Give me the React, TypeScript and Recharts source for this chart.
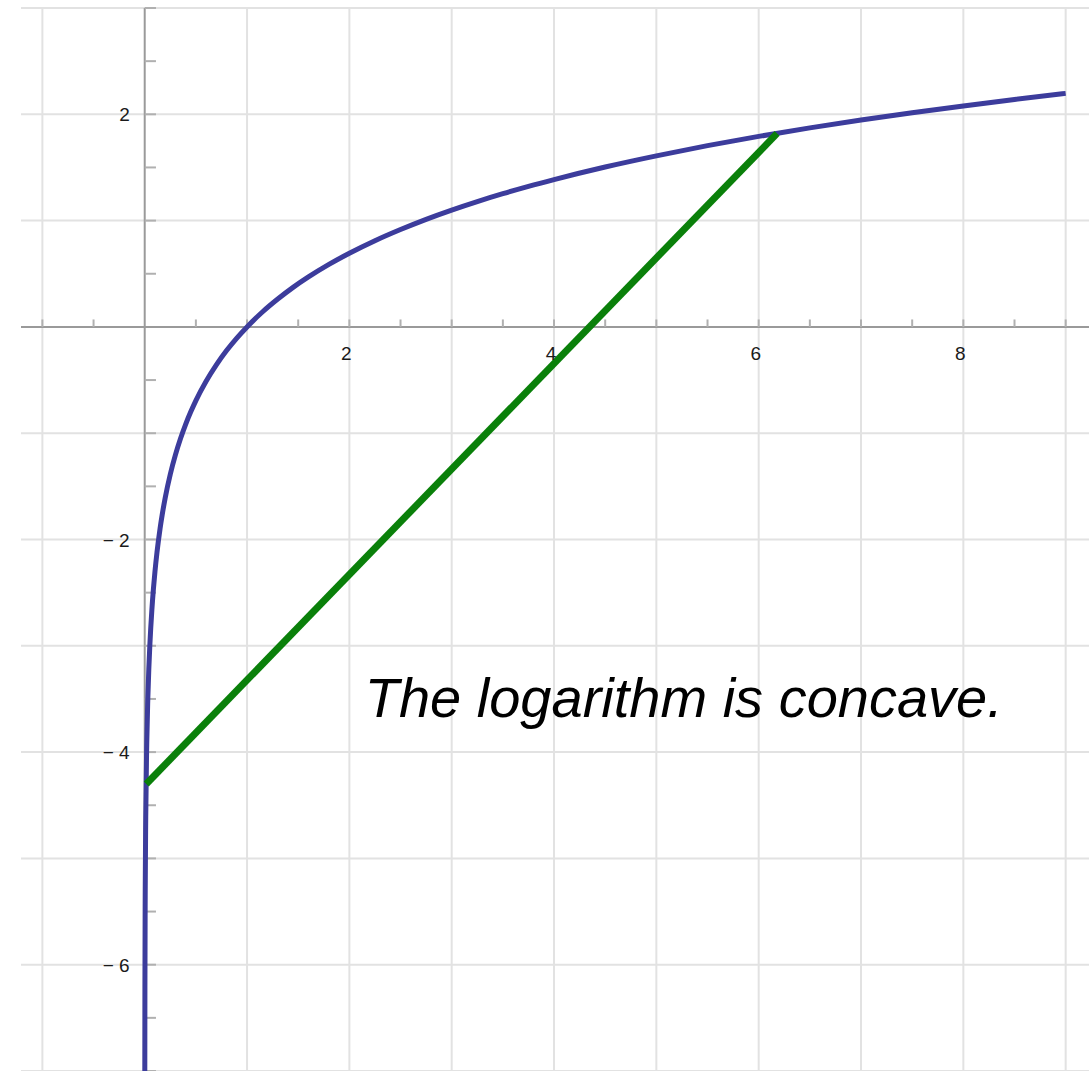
import { ComposedChart, Line, XAxis, YAxis, ReferenceLine, ReferenceDot } from 'recharts'

// y = ln x, sampled along the drawn curve
const logX = [
  0.0009, 0.002, 0.005, 0.01, 0.02, 0.03, 0.04, 0.05, 0.07, 0.085, 0.1, 0.12, 0.15, 0.17, 0.2, 0.25, 0.3, 0.35, 0.4, 0.45,
  0.5, 0.6, 0.7, 0.8, 0.9, 1, 1.15, 1.3, 1.45, 1.6, 1.8, 2, 2.25, 2.5, 2.75, 3, 3.25, 3.5, 3.75, 4, 4.5, 5, 5.5, 6, 6.5,
  7, 7.5, 8, 8.5, 9,
]
const logY = [
  -7.013, -6.215, -5.298, -4.605, -3.912, -3.507, -3.219, -2.996, -2.659, -2.465, -2.303, -2.12, -1.897, -1.772, -1.609,
  -1.386, -1.204, -1.05, -0.916, -0.799, -0.693, -0.511, -0.357, -0.223, -0.105, 0, 0.14, 0.262, 0.372, 0.47, 0.588, 0.693,
  0.811, 0.916, 1.012, 1.099, 1.179, 1.253, 1.322, 1.386, 1.504, 1.609, 1.705, 1.792, 1.872, 1.946, 2.015, 2.079, 2.14, 2.197,
]

// chord lying under the curve
const chordX = [0.015, 6.18]
const chordY = [-4.3, 1.82]

const gridX = [-1, 1, 2, 3, 4, 5, 6, 7, 8, 9]
const gridY = [-7, -6, -5, -4, -3, -2, -1, 1, 2, 3]
const minorX = [-1, -0.5, 0.5, 1, 1.5, 2, 2.5, 3, 3.5, 4, 4.5, 5, 5.5, 6, 6.5, 7, 7.5, 8, 8.5, 9]
const minorY = [-7, -6.5, -6, -5.5, -5, -4.5, -4, -3.5, -3, -2.5, -2, -1.5, -1, -0.5, 0.5, 1, 1.5, 2, 2.5, 3]
const xLabels = [2, 4, 6, 8]
const yLabels = [2, -2, -4, -6]

const caption = 'The logarithm is concave.'
const captionAt = { x: 2.15, y: -3.67 }

const curve = logX.map((x, i) => ({ x, y: logY[i] }))
const chord = chordX.map((x, i) => ({ x, y: chordY[i] }))

const fmt = (v: number) => (v < 0 ? `\u2212 ${-v}` : `${v}`)
const tickFont = { fontFamily: 'Liberation Sans, Arial, sans-serif', fontSize: 19, fill: '#1a1a1a' }

export default function App() {
  return (
    <div style={{ position: 'absolute', left: 0, top: 0, background: '#fff' }}>
      <ComposedChart width={1089} height={1071} margin={{ top: 8, right: 0, bottom: 0, left: 21 }}>
        <XAxis type="number" dataKey="x" domain={[-1.209, 9.228]} allowDataOverflow hide />
        <YAxis type="number" dataKey="y" domain={[-7, 3]} allowDataOverflow hide />

        {gridX.map((v) => (
          <ReferenceLine key={`gx${v}`} x={v} stroke="#e2e2e2" strokeWidth={2} />
        ))}
        {gridY.map((v) => (
          <ReferenceLine key={`gy${v}`} y={v} stroke="#e2e2e2" strokeWidth={2} />
        ))}

        <ReferenceLine y={0} stroke="#9a9a9a" strokeWidth={2} />
        <ReferenceLine x={0} stroke="#9a9a9a" strokeWidth={2} />
        {minorX.map((v) => (
          <ReferenceLine key={`mx${v}`} segment={[{ x: v, y: 0 }, { x: v, y: 0.07 }]} stroke="#b0b0b0" strokeWidth={2} />
        ))}
        {minorY.map((v) => (
          <ReferenceLine key={`my${v}`} segment={[{ x: 0, y: v }, { x: 0.11, y: v }]} stroke="#b0b0b0" strokeWidth={2} />
        ))}

        {xLabels.map((v) => (
          <ReferenceDot
            key={`lx${v}`}
            x={v}
            y={0}
            r={0}
            shape={(p: any) => (
              <text x={p.cx - 3} y={p.cy + 33} textAnchor="middle" {...tickFont}>
                {fmt(v)}
              </text>
            )}
          />
        ))}
        {yLabels.map((v) => (
          <ReferenceDot
            key={`ly${v}`}
            x={0}
            y={v}
            r={0}
            shape={(p: any) => (
              <text x={p.cx - 15} y={p.cy + 7} textAnchor="end" {...tickFont}>
                {fmt(v)}
              </text>
            )}
          />
        ))}

        <Line data={curve} dataKey="y" type="monotone" stroke="#3c3c9c" strokeWidth={5} dot={false} isAnimationActive={false} />
        <Line data={chord} dataKey="y" type="linear" stroke="#0a800a" strokeWidth={7} dot={false} isAnimationActive={false} />

        <ReferenceDot
          x={captionAt.x}
          y={captionAt.y}
          r={0}
          shape={(p: any) => (
            <text x={p.cx} y={p.cy} fontFamily="Liberation Sans, Arial, sans-serif" fontStyle="italic" fontSize={56} fill="#000">
              {caption}
            </text>
          )}
        />
      </ComposedChart>
    </div>
  )
}
